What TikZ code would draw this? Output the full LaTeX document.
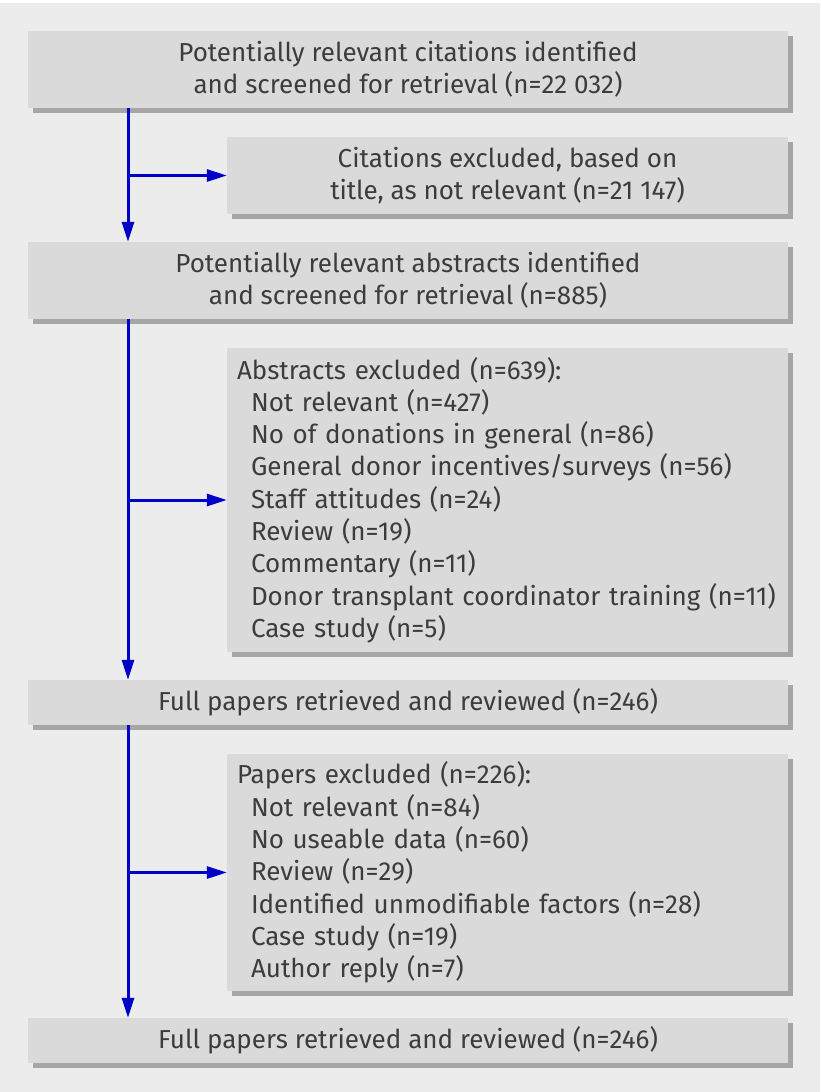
\documentclass[tikz,border=0pt]{standalone}
\usepackage{fontspec}
\setmainfont{Fira Sans}
\usetikzlibrary{arrows.meta,shadows}
\definecolor{bgc}{HTML}{ECECEC}
\definecolor{boxc}{HTML}{DADADA}
\definecolor{shadc}{HTML}{A6A6A6}
\definecolor{txtc}{HTML}{3C3C3C}
\definecolor{arrc}{HTML}{0000C8}
\begin{document}
\begin{tikzpicture}[x=1pt,y=-1pt,
  box/.style={fill=boxc, text=txtc, inner sep=0pt,
    general shadow={fill=shadc, shadow xshift=5pt, shadow yshift=-5pt},
    font=\fontsize{26}{32.3}\selectfont},
  wide/.style={box, minimum width=760pt},
  side/.style={box, minimum width=561pt},
  arr/.style={draw=arrc, line width=3pt, -{Triangle[length=20pt,width=12pt]}, arrc}
]
\useasboundingbox (0,0) rectangle (820,1092);
\fill[white] (0,0) rectangle (820,1092);
\fill[bgc] (0,3) rectangle (820,1092);

\node[wide, minimum height=77pt, align=center] (b1) at (408,69.5)
  {Potentially relevant citations identified\\and screened for retrieval (n=22~032)};
\node[side, minimum height=77pt, align=center] (b2) at (507.5,175.5)
  {Citations excluded, based on\\title, as not relevant (n=21~147)};
\node[wide, minimum height=77pt, align=center] (b3) at (408,280.5)
  {Potentially relevant abstracts identified\\and screened for retrieval (n=885)};
\node[side, minimum height=304pt, text width=541pt, align=left] (b4) at (507.5,500)
  {Abstracts excluded (n=639):\\
   \hspace*{14pt}Not relevant (n=427)\\
   \hspace*{14pt}No of donations in general (n=86)\\
   \hspace*{14pt}General donor incentives/surveys (n=56)\\
   \hspace*{14pt}Staff attitudes (n=24)\\
   \hspace*{14pt}Review (n=19)\\
   \hspace*{14pt}Commentary (n=11)\\
   \hspace*{14pt}Donor transplant coordinator training (n=11)\\
   \hspace*{14pt}Case study (n=5)};
\node[wide, minimum height=45pt, align=center] (b5) at (408,702.5)
  {Full papers retrieved and reviewed (n=246)};
\node[side, minimum height=237pt, text width=541pt, align=left] (b6) at (507.5,872.5)
  {Papers excluded (n=226):\\
   \hspace*{14pt}Not relevant (n=84)\\
   \hspace*{14pt}No useable data (n=60)\\
   \hspace*{14pt}Review (n=29)\\
   \hspace*{14pt}Identified unmodifiable factors (n=28)\\
   \hspace*{14pt}Case study (n=19)\\
   \hspace*{14pt}Author reply (n=7)};
\node[wide, minimum height=45pt, align=center] (b7) at (408,1040.5)
  {Full papers retrieved and reviewed (n=246)};

\coordinate (sx) at (128,0);
\draw[arr] (b1.south -| sx) -- (b3.north -| sx);
\draw[arr] (b2.west -| sx) -- (b2.west);
\draw[arr] (b3.south -| sx) -- (b5.north -| sx);
\draw[arr] (b4.west -| sx) -- (b4.west);
\draw[arr] (b5.south -| sx) -- (b7.north -| sx);
\draw[arr] (b6.west -| sx) -- (b6.west);
\end{tikzpicture}
\end{document}
